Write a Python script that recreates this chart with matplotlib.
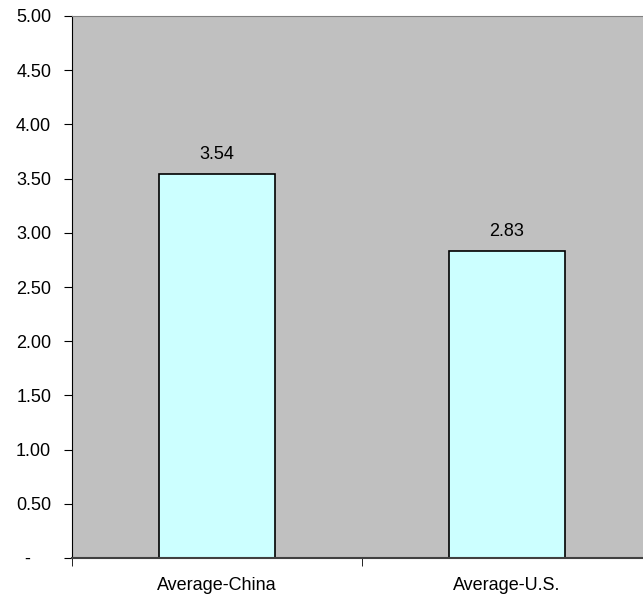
import numpy as np
import matplotlib.pyplot as plt

plt.rcParams['font.family'] = ['Liberation Sans', 'DejaVu Sans']

categories = ['Average-China', 'Average-U.S.']
values = [3.54, 2.83]
yticks = [0, 0.5, 1.0, 1.5, 2.0, 2.5, 3.0, 3.5, 4.0, 4.5, 5.0]
ytick_labels = ['-    '] + ['%.2f' % v for v in yticks[1:]]

fs = 13

fig = plt.figure(figsize=(6.43, 6.01), dpi=100)
ax = fig.add_axes([72 / 643, 43 / 601, 580 / 643, 542 / 601])
ax.set_facecolor('#C0C0C0')

x = np.arange(len(categories))
bars = ax.bar(x, values, width=0.4, color='#CCFFFF', edgecolor='black', linewidth=1.2)
for b, v in zip(bars, values):
    ax.text(b.get_x() + b.get_width() / 2, v + 0.10, '%.2f' % v,
            ha='center', va='bottom', fontsize=fs)

ax.set_xlim(-0.5, len(categories) - 0.5)
ax.set_ylim(0, 5)
ax.set_yticks(yticks)
ax.set_yticklabels(ytick_labels, fontsize=fs)

# category labels centred, tick marks on the category boundaries
ax.set_xticks(x)
ax.set_xticklabels(categories, fontsize=fs)
ax.tick_params(axis='x', length=0, pad=14)
ax.set_xticks(np.arange(-0.5, len(categories)), minor=True)
ax.tick_params(axis='x', which='minor', length=6, direction='out', color='black')
ax.tick_params(axis='y', length=6, direction='out', pad=9)

ax.spines['left'].set_color('black')
ax.spines['bottom'].set_color('#404040')
ax.spines['bottom'].set_linewidth(1.5)
ax.spines['top'].set_color('#808080')
ax.spines['right'].set_visible(False)

fig.savefig('out.png', dpi=100, facecolor='white')
